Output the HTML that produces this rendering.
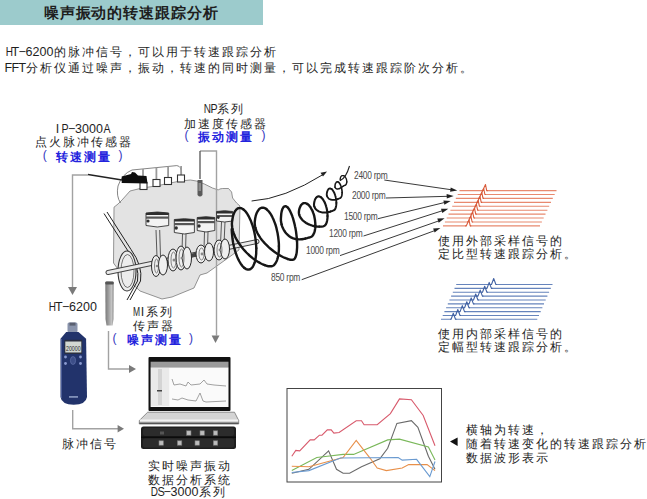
<!DOCTYPE html>
<html><head><meta charset="utf-8">
<style>
html,body{margin:0;padding:0;background:#fff;}
body{width:647px;height:499px;position:relative;overflow:hidden;font-family:"Liberation Sans",sans-serif;color:#1e1e1e;}
.t{position:absolute;white-space:nowrap;font-size:12px;line-height:14px;letter-spacing:2px;}
.mc{display:inline-block;width:7px;text-align:center;font-size:12.5px;letter-spacing:0;}
.b{color:#1c1ccc;font-weight:bold;}
.c{text-align:center;}
svg{position:absolute;left:0;top:0;}
.rpm{position:absolute;font-size:10px;line-height:10px;letter-spacing:-0.3px;color:#4a4a4a;white-space:nowrap;transform:scaleX(0.84);transform-origin:0 0;}
</style></head><body>
<div style="position:absolute;left:0;top:0;width:263px;height:24.5px;background:#9ccbcc"></div>
<div class="t" style="left:43.8px;top:4.5px;font-size:15px;line-height:15px;font-weight:bold;letter-spacing:0.9px">噪声振动的转速跟踪分析</div>
<div class="t" style="left:4.5px;top:44.5px"><span class="mc" style="transform:scaleX(0.8)">H</span><span class="mc">T</span><span class="mc">&minus;</span><span class="mc">6</span><span class="mc">2</span><span class="mc">0</span><span class="mc">0</span>的脉冲信号，可以用于转速跟踪分析</div>
<div class="t" style="left:4.5px;top:60.5px"><span class="mc">F</span><span class="mc">F</span><span class="mc">T</span>分析仪通过噪声，振动，转速的同时测量，可以完成转速跟踪阶次分析。</div>

<svg width="647" height="499" viewBox="0 0 647 499">
<!-- connector gray lines -->
<g stroke="#a2a2a2" stroke-width="1.4" fill="none">
<path d="M88,175 H72.5 V288"/>
<path d="M108.5,331 V369 H129"/>
<path d="M72.7,410 V428.7 H118"/>
</g>
<g fill="#7a7a7a">
<path d="M68,287 L77,287 L72.5,295 Z"/>
<path d="M211.6,335.5 L219.5,335.5 L215.5,343 Z"/>
<path d="M129,365 L136,369 L129,373 Z"/>
<path d="M117.6,425 L124,428.7 L117.6,432.5 Z"/>
</g>

<!-- engine body -->
<path d="M114,207.2 L118,204 L122,200 L130,191 L142,188 L156,186 L170.3,183 L180.3,181 L190.4,180 L196.4,181 L204.4,184 L212.5,188 L218.5,190 L219.5,189 L222.5,188.5 L228.5,188.5 L231.6,192 L232.6,198 L236.6,203 L240,206 L239,250 L228,258 L207,273 L200,275 L194,288 L172,297 L162,299 L140,291 L120,272 L113.5,263 Z" fill="#e3e3e3" stroke="#6a6a6a" stroke-width="0.7"/>
<path d="M200,151 H216.5 V336" stroke="#a2a2a2" stroke-width="1.4" fill="none"/>
<!-- harness -->
<path d="M132,170 Q122,174 118,186 Q116,196 120.5,203 M132,170 L176.8,165.6 Q181.5,166 181.7,173.6" fill="none" stroke="#666" stroke-width="0.8"/>
<g stroke="#9a9a9a" stroke-width="1.8"><path d="M143,169 V184 M156.4,167.5 V180 M168.1,166.5 V178 M181.1,166 V176"/></g>
<g fill="#fff" stroke="#333" stroke-width="1.1">
<rect x="140" y="182.5" width="7" height="7"/><rect x="153" y="179.5" width="7" height="7"/><rect x="164.5" y="177.5" width="7" height="7"/><rect x="177.5" y="175" width="7" height="7"/>
</g>
<!-- IP-3000A clip -->
<path d="M88,174.5 L122,180" stroke="#222" stroke-width="1.4"/>
<path d="M121.7,176.5 L131,174 L132,172 L135,172.4 L138,175.5 L146.5,176 L147.5,183.5 L121.7,183 Z" fill="#0e0e0e"/>
<!-- NP sensor -->
<path d="M200,151 V179" stroke="#555" stroke-width="1.3"/>
<path d="M197.5,180 L202.5,180 L202.5,195 Q200,198 197.5,195 Z" fill="#5a5a5a"/>
<rect x="198.5" y="183" width="2.5" height="8" fill="#8a8a8a"/>

<!-- belt and pulley -->
<path d="M104,213.5 L128,251 Q140,266 137.5,281 L127,300" fill="none" stroke="#222" stroke-width="1"/>
<path d="M107,212 L131,249.5 Q143,266 140.5,281 L130,300" fill="none" stroke="#222" stroke-width="1"/>
<ellipse cx="127" cy="271" rx="9" ry="20" fill="#ececec" stroke="#333" stroke-width="1.1"/>
<ellipse cx="127.5" cy="271" rx="6.5" ry="16.5" fill="none" stroke="#555" stroke-width="0.8"/>
<!-- shaft -->
<path d="M108,272.5 L257,241.5" stroke="#444" stroke-width="5" stroke-linecap="round"/>
<path d="M108,272.5 L257,241.5" stroke="#eaeaea" stroke-width="3" stroke-linecap="round"/>

<!-- piston rods -->
<g fill="none" stroke="#333" stroke-width="0.8">
<path d="M156,230 L157,257 M159.7,230 L160.5,257"/>
<path d="M182.5,234 L182,252 M186,234 L185.5,252"/>
<path d="M204.5,232 L204,249 M208,232 L207.5,249"/>
<path d="M221.5,222 L220.5,244 M225,222 L224,244"/>
</g>
<!-- pistons -->
<g fill="#f3f3f3" stroke="#333" stroke-width="0.9">
<path d="M146,213 Q157.3,211 168.7,213 L168.7,225.5 Q157.3,228.5 146,225.5 Z"/>
<path d="M174.3,219.5 Q184.3,218 194.4,219.5 L194.4,232.5 Q184.3,235.5 174.3,232.5 Z"/>
<path d="M197.2,217.5 Q206,216 214.8,217.5 L214.8,230.5 Q206,233.5 197.2,230.5 Z"/>
<path d="M216.5,211.5 Q224.6,210 232.7,211.5 L232.7,221 Q224.6,223 216.5,221 Z"/>
</g>
<g fill="#2e2e2e">
<path d="M146,213 Q157.3,211 168.7,213 V215 H146 Z"/><rect x="146" y="216.5" width="22.7" height="2.2" fill="#555"/><circle cx="148" cy="221" r="1.6"/>
<path d="M174.3,219.5 Q184.3,218 194.4,219.5 V221.5 H174.3 Z"/><rect x="174.3" y="223" width="20.1" height="2.2" fill="#555"/><circle cx="176.2" cy="228" r="1.7"/>
<path d="M197.2,217.5 Q206,216 214.8,217.5 V219.5 H197.2 Z"/><rect x="197.2" y="221" width="17.6" height="2.2" fill="#555"/><circle cx="199" cy="226" r="1.7"/>
<path d="M216.5,211.5 Q224.6,210 232.7,211.5 V213.5 H216.5 Z"/><rect x="216.5" y="215" width="16.2" height="2" fill="#555"/><circle cx="218.3" cy="217.5" r="1.4"/>
</g>
<!-- cranks -->
<path d="M167,262 L169,261 M190,256 L197,254 M212,250 L215,249" stroke="#444" stroke-width="3.5"/>
<g fill="#efefef" stroke="#2a2a2a" stroke-width="1">
<ellipse cx="156" cy="266" rx="4.5" ry="10.5"/><ellipse cx="163" cy="265" rx="4.5" ry="10"/>
<ellipse cx="173" cy="260" rx="5" ry="11"/><ellipse cx="181" cy="258" rx="5" ry="12"/><ellipse cx="187" cy="258" rx="4.5" ry="11"/>
<ellipse cx="201" cy="254" rx="5" ry="9"/><ellipse cx="209" cy="252" rx="4.5" ry="9"/>
<ellipse cx="219" cy="250" rx="5" ry="10"/><ellipse cx="225" cy="249" rx="4.5" ry="10"/>
</g>
<g fill="none" stroke="#555" stroke-width="0.7">
<ellipse cx="156.5" cy="266" rx="2" ry="7"/><ellipse cx="173.5" cy="260" rx="2.5" ry="8"/><ellipse cx="181.5" cy="258" rx="2.5" ry="9"/>
<ellipse cx="201.5" cy="254" rx="2.5" ry="6"/><ellipse cx="219.5" cy="250" rx="2.5" ry="7"/>
</g>
<g fill="#888"><circle cx="157" cy="266" r="1.3"/><circle cx="174" cy="260" r="1.5"/><circle cx="182" cy="258" r="1.5"/><circle cx="202" cy="254" r="1.4"/><circle cx="220" cy="250" r="1.4"/></g>

<!-- spiral -->
<path d="M231.7,229.3 L231.8,231.1 L231.9,233.0 L232.1,234.9 L232.3,236.9 L232.5,238.8 L232.8,240.7 L233.1,242.7 L233.5,244.6 L233.9,246.5 L234.4,248.3 L234.9,250.1 L235.4,251.9 L236.0,253.6 L236.6,255.3 L237.2,256.9 L237.9,258.4 L238.6,259.9 L239.3,261.3 L240.0,262.5 L240.7,263.7 L241.5,264.8 L242.2,265.8 L243.0,266.7 L243.8,267.4 L244.5,268.1" fill="none" stroke="#161616" stroke-width="2.40" stroke-linecap="round"/>
<path d="M244.5,268.1 L245.3,268.6 L246.1,269.1 L246.8,269.4 L247.6,269.5 L248.3,269.6 L249.0,269.5 L249.7,269.4 L250.4,269.1 L251.0,268.6 L251.7,268.1 L252.2,267.4 L252.8,266.7 L253.3,265.8 L253.8,264.8 L254.2,263.7 L254.7,262.5 L255.0,261.3 L255.3,259.9 L255.6,258.4 L255.8,256.9 L256.0,255.3 L256.2,253.6 L256.2,251.9 L256.3,250.1 L256.3,248.3" fill="none" stroke="#161616" stroke-width="2.40" stroke-linecap="round"/>
<path d="M256.3,248.3 L256.2,246.5 L256.1,244.6 L255.9,242.7 L255.7,240.7 L255.5,238.8 L255.2,236.9 L254.9,234.9 L254.5,233.0 L254.1,231.1 L253.6,229.3 L253.1,227.5 L252.6,225.7 L252.0,224.0 L251.4,222.3 L250.8,220.7 L250.1,219.2 L249.4,217.7 L248.7,216.3 L248.0,215.1 L247.3,213.9 L246.5,212.8 L245.8,211.8 L245.0,210.9 L244.2,210.2 L243.5,209.5" fill="none" stroke="#161616" stroke-width="2.40" stroke-linecap="round"/>
<path d="M243.5,209.5 L242.7,209.0 L241.9,208.5 L241.2,208.2 L240.4,208.1 L239.7,208.0 L239.0,208.1 L238.3,208.2 L237.6,208.5 L237.0,209.0 L236.3,209.5 L235.8,210.2 L235.2,210.9 L234.7,211.8 L234.2,212.8 L233.8,213.9 L233.3,215.1 L233.0,216.3 L232.7,217.7 L232.4,219.2 L232.2,220.7 L232.0,222.3 L231.9,224.0 L232.0,225.7 L232.2,227.4 L232.5,229.2" fill="none" stroke="#161616" stroke-width="2.40" stroke-linecap="round"/>
<path d="M232.5,229.2 L233.0,231.1 L233.6,232.9 L234.3,234.8 L235.1,236.7 L236.0,238.5 L237.1,240.4 L238.2,242.2 L239.4,244.0 L240.7,245.8 L242.0,247.6 L243.4,249.3 L244.9,250.9 L246.4,252.5 L247.9,254.0 L249.5,255.5 L251.0,256.8 L252.6,258.1 L254.2,259.3 L255.8,260.5 L257.4,261.5 L259.0,262.4 L260.5,263.3 L262.0,264.0 L263.4,264.6 L264.8,265.2" fill="none" stroke="#161616" stroke-width="2.40" stroke-linecap="round"/>
<path d="M264.8,265.2 L266.1,265.6 L267.4,266.0 L268.6,266.2 L269.6,266.3 L270.8,266.3 L271.5,266.2 L272.2,266.1 L272.9,265.8 L273.5,265.4 L274.2,264.9 L274.7,264.2 L275.3,263.5 L275.8,262.7 L276.3,261.7 L276.8,260.7 L277.2,259.6 L277.6,258.4 L277.9,257.1 L278.2,255.7 L278.4,254.2 L278.6,252.7 L278.8,251.1 L278.9,249.5 L278.9,247.8 L278.9,246.1" fill="none" stroke="#161616" stroke-width="2.40" stroke-linecap="round"/>
<path d="M278.9,246.1 L278.9,244.3 L278.8,242.5 L278.6,240.7 L278.4,238.8 L278.2,237.0 L277.9,235.2 L277.6,233.3 L277.2,231.5 L276.8,229.7 L276.4,227.9 L275.9,226.2 L275.4,224.5 L274.8,222.9 L274.2,221.3 L273.6,219.8 L272.9,218.3 L272.3,216.9 L271.6,215.6 L270.9,214.4 L270.1,213.3 L269.4,212.3 L268.6,211.3 L267.9,210.5 L267.1,209.8 L266.4,209.1" fill="none" stroke="#161616" stroke-width="2.40" stroke-linecap="round"/>
<path d="M266.4,209.1 L265.6,208.6 L264.8,208.2 L264.1,207.9 L263.3,207.8 L262.6,207.7 L261.9,207.8 L261.2,207.9 L260.5,208.2 L259.9,208.6 L259.2,209.1 L258.7,209.8 L258.1,210.5 L257.6,211.3 L257.1,212.3 L256.6,213.3 L256.2,214.4 L255.8,215.6 L255.5,216.9 L255.2,218.3 L255.0,219.8 L254.8,221.3 L254.7,222.9 L254.8,224.5 L255.0,226.2 L255.4,227.8" fill="none" stroke="#161616" stroke-width="2.40" stroke-linecap="round"/>
<path d="M255.4,227.8 L255.9,229.5 L256.6,231.2 L257.4,233.0 L258.3,234.7 L259.4,236.4 L260.5,238.1 L261.7,239.7 L263.0,241.3 L264.4,242.9 L265.9,244.5 L267.4,245.9 L268.9,247.4 L270.5,248.7 L272.1,250.0 L273.7,251.3 L275.3,252.4 L276.8,253.5 L278.4,254.5 L279.9,255.4 L281.4,256.2 L282.9,257.0 L284.3,257.7 L285.6,258.2 L286.9,258.7 L288.0,259.1" fill="none" stroke="#161616" stroke-width="2.40" stroke-linecap="round"/>
<path d="M288.0,259.1 L289.1,259.4 L290.1,259.7 L291.0,259.8 L291.9,259.9 L292.8,259.8 L293.2,259.7 L293.6,259.6 L294.0,259.3 L294.4,259.0 L294.8,258.5 L295.1,257.9 L295.5,257.2 L295.8,256.5 L296.0,255.6 L296.3,254.7 L296.5,253.6 L296.7,252.5 L296.8,251.3 L296.9,250.1 L297.0,248.8 L297.1,247.4 L297.1,245.9 L297.1,244.4 L297.1,242.9 L297.0,241.3" fill="none" stroke="#161616" stroke-width="2.40" stroke-linecap="round"/>
<path d="M297.0,241.3 L296.9,239.7 L296.8,238.0 L296.6,236.4 L296.4,234.7 L296.2,233.0 L296.0,231.3 L295.7,229.6 L295.4,228.0 L295.0,226.3 L294.7,224.7 L294.3,223.1 L293.9,221.6 L293.5,220.1 L293.1,218.6 L292.6,217.2 L292.2,215.9 L291.7,214.7 L291.2,213.5 L290.7,212.4 L290.2,211.3 L289.7,210.4 L289.2,209.5 L288.7,208.8 L288.2,208.1 L287.7,207.5" fill="none" stroke="#161616" stroke-width="2.40" stroke-linecap="round"/>
<path d="M287.7,207.5 L287.2,207.0 L286.7,206.7 L286.2,206.4 L285.7,206.3 L285.2,206.2 L284.8,206.3 L284.4,206.4 L284.0,206.7 L283.6,207.0 L283.2,207.5 L282.9,208.1 L282.5,208.8 L282.2,209.5 L282.0,210.4 L281.7,211.3 L281.5,212.4 L281.3,213.5 L281.2,214.7 L281.1,215.9 L281.0,217.2 L280.9,218.6 L280.9,220.1 L281.0,221.5 L281.3,223.0 L281.6,224.4" fill="none" stroke="#161616" stroke-width="2.40" stroke-linecap="round"/>
<path d="M281.6,224.4 L282.0,225.8 L282.5,227.2 L283.1,228.5 L283.8,229.8 L284.5,231.0 L285.3,232.2 L286.1,233.2 L287.0,234.2 L288.0,235.1 L289.0,236.0 L290.0,236.7 L291.0,237.4 L292.1,237.9 L293.2,238.4 L294.3,238.7 L295.5,239.0 L296.6,239.2 L297.7,239.3 L298.9,239.4 L300.0,239.4 L301.1,239.3 L302.1,239.2 L303.2,239.0 L304.2,238.9 L305.2,238.6" fill="none" stroke="#161616" stroke-width="2.40" stroke-linecap="round"/>
<path d="M305.2,238.6 L306.1,238.4 L307.0,238.2 L307.8,237.9 L308.6,237.7 L309.2,237.5 L309.9,237.3 L310.4,237.2 L310.9,237.0 L311.3,236.8 L311.7,236.5 L312.2,236.1 L312.6,235.7 L313.0,235.2 L313.3,234.6 L313.6,234.0 L313.9,233.4 L314.2,232.7 L314.5,231.9 L314.7,231.1 L314.9,230.3 L315.0,229.4 L315.2,228.4 L315.3,227.5 L315.3,226.5 L315.3,225.5" fill="none" stroke="#161616" stroke-width="2.40" stroke-linecap="round"/>
<path d="M315.3,225.5 L315.3,224.5 L315.3,223.4 L315.2,222.3 L315.1,221.3 L315.0,220.2 L314.8,219.1 L314.6,218.1 L314.4,217.0 L314.2,215.9 L313.9,214.9 L313.6,213.9 L313.2,212.9 L312.9,212.0 L312.5,211.0 L312.1,210.1 L311.6,209.3 L311.2,208.5 L310.7,207.7 L310.3,207.0 L309.8,206.4 L309.3,205.8 L308.8,205.2 L308.2,204.7 L307.7,204.3 L307.2,203.9" fill="none" stroke="#161616" stroke-width="2.40" stroke-linecap="round"/>
<path d="M307.2,203.9 L306.7,203.6 L306.1,203.4 L305.6,203.2 L305.1,203.1 L304.6,203.1 L304.1,203.1 L303.6,203.2 L303.1,203.4 L302.7,203.6 L302.3,203.9 L301.8,204.3 L301.4,204.7 L301.0,205.2 L300.7,205.8 L300.4,206.4 L300.1,207.0 L299.8,207.7 L299.5,208.5 L299.3,209.3 L299.1,210.1 L299.0,211.0 L298.9,211.9 L298.9,212.8 L299.0,213.7 L299.2,214.6" fill="none" stroke="#161616" stroke-width="2.38" stroke-linecap="round"/>
<path d="M299.2,214.6 L299.5,215.5 L299.8,216.4 L300.3,217.2 L300.8,218.0 L301.4,218.8 L302.0,219.6 L302.7,220.3 L303.5,221.0 L304.3,221.7 L305.2,222.3 L306.1,222.9 L307.0,223.4 L308.0,223.9 L308.9,224.4 L309.9,224.8 L310.9,225.2 L311.9,225.5 L312.9,225.8 L313.9,226.1 L314.9,226.3 L315.8,226.4 L316.7,226.6 L317.6,226.6 L318.5,226.7 L319.3,226.7" fill="none" stroke="#161616" stroke-width="2.31" stroke-linecap="round"/>
<path d="M319.3,226.7 L320.1,226.7 L320.8,226.7 L321.5,226.7 L322.1,226.6 L322.7,226.5 L323.2,226.4 L323.6,226.3 L324.0,226.1 L324.4,225.9 L324.7,225.7 L325.0,225.3 L325.4,225.0 L325.7,224.5 L326.0,224.1 L326.2,223.5 L326.5,223.0 L326.7,222.3 L326.9,221.7 L327.0,221.0 L327.2,220.2 L327.3,219.4 L327.4,218.6 L327.5,217.8 L327.5,216.9 L327.5,216.0" fill="none" stroke="#161616" stroke-width="2.24" stroke-linecap="round"/>
<path d="M327.5,216.0 L327.5,215.1 L327.5,214.2 L327.4,213.3 L327.3,212.3 L327.2,211.4 L327.1,210.5 L326.9,209.5 L326.7,208.6 L326.5,207.7 L326.2,206.8 L326.0,205.9 L325.7,205.0 L325.4,204.2 L325.1,203.4 L324.7,202.6 L324.4,201.8 L324.0,201.1 L323.6,200.5 L323.2,199.8 L322.8,199.3 L322.4,198.7 L322.0,198.3 L321.6,197.8 L321.1,197.5 L320.7,197.1" fill="none" stroke="#161616" stroke-width="2.17" stroke-linecap="round"/>
<path d="M320.7,197.1 L320.3,196.9 L319.9,196.7 L319.4,196.5 L319.0,196.4 L318.6,196.4 L318.2,196.4 L317.8,196.5 L317.4,196.7 L317.0,196.9 L316.7,197.1 L316.4,197.5 L316.0,197.8 L315.7,198.3 L315.4,198.7 L315.2,199.3 L314.9,199.8 L314.7,200.5 L314.5,201.1 L314.4,201.8 L314.2,202.6 L314.1,203.4 L314.0,204.2 L314.0,204.9 L314.1,205.7 L314.3,206.4" fill="none" stroke="#161616" stroke-width="2.10" stroke-linecap="round"/>
<path d="M314.3,206.4 L314.6,207.1 L314.9,207.8 L315.2,208.4 L315.7,209.0 L316.2,209.5 L316.7,210.0 L317.3,210.5 L318.0,210.9 L318.6,211.3 L319.3,211.6 L320.1,211.9 L320.8,212.1 L321.6,212.3 L322.4,212.4 L323.2,212.5 L324.0,212.5 L324.8,212.5 L325.5,212.5 L326.3,212.4 L327.1,212.3 L327.8,212.2 L328.5,212.0 L329.2,211.9 L329.9,211.7 L330.5,211.5" fill="none" stroke="#161616" stroke-width="2.03" stroke-linecap="round"/>
<path d="M330.5,211.5 L331.1,211.3 L331.6,211.1 L332.1,211.0 L332.5,210.8 L332.9,210.6 L333.3,210.5 L333.6,210.4 L333.9,210.3 L334.1,210.2 L334.4,210.0 L334.6,209.7 L334.9,209.5 L335.1,209.1 L335.3,208.8 L335.4,208.4 L335.6,208.0 L335.8,207.5 L335.9,207.0 L336.0,206.5 L336.1,206.0 L336.2,205.4 L336.3,204.8 L336.3,204.2 L336.3,203.5 L336.4,202.9" fill="none" stroke="#161616" stroke-width="1.96" stroke-linecap="round"/>
<path d="M336.4,202.9 L336.3,202.2 L336.3,201.6 L336.3,200.9 L336.2,200.2 L336.1,199.5 L336.0,198.8 L335.9,198.1 L335.7,197.4 L335.6,196.8 L335.4,196.1 L335.2,195.5 L335.0,194.8 L334.8,194.2 L334.6,193.6 L334.3,193.0 L334.1,192.5 L333.8,192.0 L333.5,191.5 L333.2,191.0 L333.0,190.6 L332.7,190.2 L332.4,189.9 L332.1,189.5 L331.8,189.3 L331.5,189.0" fill="none" stroke="#161616" stroke-width="1.89" stroke-linecap="round"/>
<path d="M331.5,189.0 L331.2,188.8 L330.8,188.7 L330.5,188.6 L330.3,188.5 L330.0,188.5 L329.7,188.5 L329.4,188.6 L329.1,188.7 L328.9,188.8 L328.6,189.0 L328.4,189.3 L328.1,189.5 L327.9,189.9 L327.7,190.2 L327.6,190.6 L327.4,191.0 L327.2,191.5 L327.1,192.0 L327.0,192.5 L326.9,193.0 L326.8,193.6 L326.7,194.2 L326.8,194.7 L326.8,195.3 L326.9,195.8" fill="none" stroke="#161616" stroke-width="1.82" stroke-linecap="round"/>
<path d="M326.9,195.8 L327.1,196.3 L327.3,196.8 L327.6,197.2 L327.9,197.6 L328.2,198.0 L328.5,198.4 L328.9,198.7 L329.4,199.0 L329.8,199.2 L330.3,199.4 L330.8,199.6 L331.3,199.7 L331.8,199.8 L332.3,199.9 L332.9,199.9 L333.4,199.9 L333.9,199.9 L334.5,199.9 L335.0,199.8 L335.5,199.7 L336.0,199.6 L336.5,199.4 L337.0,199.3 L337.4,199.2 L337.9,199.0" fill="none" stroke="#161616" stroke-width="1.74" stroke-linecap="round"/>
<path d="M337.9,199.0 L338.3,198.8 L338.6,198.7 L339.0,198.6 L339.3,198.4 L339.6,198.3 L339.9,198.2 L340.1,198.1 L340.3,198.1 L340.5,197.9 L340.6,197.8 L340.8,197.6 L341.0,197.4 L341.1,197.2 L341.3,196.9 L341.4,196.6 L341.6,196.3 L341.7,196.0 L341.8,195.6 L341.9,195.2 L341.9,194.8 L342.0,194.4 L342.0,194.0 L342.1,193.5 L342.1,193.0 L342.1,192.5" fill="none" stroke="#161616" stroke-width="1.67" stroke-linecap="round"/>
<path d="M342.1,192.5 L342.1,192.0 L342.1,191.5 L342.0,191.0 L342.0,190.5 L341.9,190.0 L341.8,189.5 L341.7,189.0 L341.6,188.5 L341.5,188.0 L341.4,187.5 L341.2,187.0 L341.1,186.5 L340.9,186.0 L340.8,185.6 L340.6,185.2 L340.4,184.8 L340.2,184.4 L340.0,184.0 L339.8,183.7 L339.6,183.4 L339.4,183.1 L339.1,182.8 L338.9,182.6 L338.7,182.4 L338.5,182.2" fill="none" stroke="#161616" stroke-width="1.60" stroke-linecap="round"/>
<path d="M338.5,182.2 L338.2,182.1 L338.0,181.9 L337.8,181.9 L337.6,181.8 L337.4,181.8 L337.1,181.8 L336.9,181.9 L336.7,181.9 L336.5,182.1 L336.4,182.2 L336.2,182.4 L336.0,182.6 L335.9,182.8 L335.7,183.1 L335.6,183.4 L335.4,183.7 L335.3,184.0 L335.2,184.4 L335.1,184.8 L335.1,185.2 L335.0,185.6 L335.0,186.0 L335.0,186.4 L335.0,186.8 L335.1,187.2" fill="none" stroke="#161616" stroke-width="1.53" stroke-linecap="round"/>
<path d="M335.1,187.2 L335.2,187.5 L335.3,187.8 L335.5,188.1 L335.7,188.3 L335.9,188.5 L336.2,188.7 L336.4,188.8 L336.7,188.9 L337.0,189.0 L337.3,189.0 L337.7,189.0 L338.0,189.0 L338.3,188.9 L338.7,188.8 L339.1,188.7 L339.5,188.5 L339.8,188.3 L340.2,188.1 L340.6,187.9 L341.0,187.7 L341.3,187.4 L341.7,187.2 L342.0,187.0 L342.4,186.7 L342.7,186.5" fill="none" stroke="#161616" stroke-width="1.46" stroke-linecap="round"/>
<path d="M342.7,186.5 L343.0,186.3 L343.3,186.1 L343.6,185.9 L343.9,185.7 L344.2,185.6 L344.4,185.5 L344.6,185.5 L344.8,185.4 L345.0,185.3 L345.2,185.3 L345.3,185.1 L345.5,185.0 L345.7,184.9 L345.8,184.7 L345.9,184.5 L346.1,184.4 L346.2,184.1 L346.3,183.9 L346.4,183.7 L346.5,183.4 L346.6,183.2 L346.6,182.9 L346.7,182.6 L346.7,182.3 L346.8,182.0" fill="none" stroke="#161616" stroke-width="1.39" stroke-linecap="round"/>
<path d="M346.8,182.0 L346.8,181.7 L346.8,181.4 L346.8,181.1 L346.7,180.8 L346.7,180.5 L346.6,180.2 L346.6,179.9 L346.5,179.6 L346.4,179.3 L346.3,179.0 L346.2,178.7 L346.1,178.4 L346.0,178.1 L345.8,177.8 L345.7,177.6 L345.5,177.3 L345.4,177.1 L345.2,176.9 L345.0,176.6 L344.8,176.5 L344.6,176.3 L344.4,176.1 L344.2,176.0 L344.0,175.9 L343.8,175.7" fill="none" stroke="#161616" stroke-width="1.32" stroke-linecap="round"/>
<path d="M343.8,175.7 L343.6,175.7 L343.4,175.6 L343.2,175.5 L343.0,175.5 L342.8,175.5 L342.6,175.5 L342.4,175.5 L342.2,175.6 L342.0,175.7 L341.8,175.7 L341.7,175.9 L341.5,176.0 L341.3,176.1 L341.2,176.3 L341.1,176.5 L340.9,176.6 L340.8,176.9 L340.7,177.1 L340.6,177.3 L340.5,177.6 L340.4,177.8 L340.4,178.1 L340.3,178.4 L340.3,178.7 L340.2,179.0" fill="none" stroke="#161616" stroke-width="1.25" stroke-linecap="round"/>
<path d="M340.2,179.0 L340.2,179.3 L340.2,179.6 L340.2,179.9 L340.3,180.2 L340.3,180.5" fill="none" stroke="#161616" stroke-width="1.20" stroke-linecap="round"/>
<path d="M340.3,180.5 Q346,178 349.5,166" fill="none" stroke="#222" stroke-width="1.1"/>
<!-- rotation arrow -->
<path d="M251.6,201 Q284,199 324,174" fill="none" stroke="#222" stroke-width="1"/>
<path d="M327,171.5 L320.5,172.8 L323,176.6 Z" fill="#222"/>

<!-- rpm arrows -->
<g stroke="#222" stroke-width="0.9" fill="none">
<path d="M384.3,180 L451,189.7"/>
<path d="M386,198 L448,196.3"/>
<path d="M378,218.7 L445,202.4"/>
<path d="M363.5,236 L442.5,210.7"/>
<path d="M340,255.6 L439,220.8"/>
<path d="M301.7,279.7 L435,230.5"/>
</g>
<g fill="#222">
<path d="M457.3,190.6 L450.1,191.8 L450.7,187.4 Z"/>
<path d="M453.7,196.0 L446.8,198.4 L446.6,194.0 Z"/>
<path d="M450.7,200.9 L444.4,204.7 L443.4,200.4 Z"/>
<path d="M448.3,208.7 L442.3,212.9 L441.0,208.8 Z"/>
<path d="M444.6,218.3 L438.7,222.7 L437.3,218.6 Z"/>
<path d="M440.4,228.0 L434.6,232.5 L433.1,228.4 Z"/>
</g>

<path d="M459.5,190.6 H482.7 M486.7,190.6 H556.5" fill="none" stroke="#e8896f" stroke-width="1.1"/>
<path d="M481.7,190.6 L482.7,190.6 L485.5,184.6 L486.7,190.6 L487.7,190.6" fill="none" stroke="#d95c3c" stroke-width="1.1" stroke-linejoin="round"/>
<path d="M457.7,194.5 H480.9 M484.9,194.5 H554.7" fill="none" stroke="#e8896f" stroke-width="1.1"/>
<path d="M479.9,194.5 L480.9,194.5 L483.7,188.5 L484.9,194.5 L485.9,194.5" fill="none" stroke="#d95c3c" stroke-width="1.1" stroke-linejoin="round"/>
<path d="M455.8,198.4 H479.0 M483.0,198.4 H552.8" fill="none" stroke="#e8896f" stroke-width="1.1"/>
<path d="M478.0,198.4 L479.0,198.4 L481.8,192.4 L483.0,198.4 L484.0,198.4" fill="none" stroke="#d95c3c" stroke-width="1.1" stroke-linejoin="round"/>
<path d="M454.0,202.4 H477.2 M481.2,202.4 H551.0" fill="none" stroke="#e8896f" stroke-width="1.1"/>
<path d="M476.2,202.4 L477.2,202.4 L480.0,196.4 L481.2,202.4 L482.2,202.4" fill="none" stroke="#d95c3c" stroke-width="1.1" stroke-linejoin="round"/>
<path d="M452.2,206.3 H475.4 M479.4,206.3 H549.2" fill="none" stroke="#e8896f" stroke-width="1.1"/>
<path d="M474.4,206.3 L475.4,206.3 L478.2,200.3 L479.4,206.3 L480.4,206.3" fill="none" stroke="#d95c3c" stroke-width="1.1" stroke-linejoin="round"/>
<path d="M450.4,210.2 H473.6 M477.6,210.2 H547.4" fill="none" stroke="#e8896f" stroke-width="1.1"/>
<path d="M472.6,210.2 L473.6,210.2 L476.4,204.2 L477.6,210.2 L478.6,210.2" fill="none" stroke="#d95c3c" stroke-width="1.1" stroke-linejoin="round"/>
<path d="M448.5,214.1 H471.7 M475.7,214.1 H545.5" fill="none" stroke="#e8896f" stroke-width="1.1"/>
<path d="M470.7,214.1 L471.7,214.1 L474.5,208.1 L475.7,214.1 L476.7,214.1" fill="none" stroke="#d95c3c" stroke-width="1.1" stroke-linejoin="round"/>
<path d="M446.7,218.0 H469.9 M473.9,218.0 H543.7" fill="none" stroke="#e8896f" stroke-width="1.1"/>
<path d="M468.9,218.0 L469.9,218.0 L472.7,212.0 L473.9,218.0 L474.9,218.0" fill="none" stroke="#d95c3c" stroke-width="1.1" stroke-linejoin="round"/>
<path d="M444.9,222.0 H468.1 M472.1,222.0 H541.9" fill="none" stroke="#e8896f" stroke-width="1.1"/>
<path d="M467.1,222.0 L468.1,222.0 L470.9,216.0 L472.1,222.0 L473.1,222.0" fill="none" stroke="#d95c3c" stroke-width="1.1" stroke-linejoin="round"/>
<path d="M443.0,225.9 H466.2 M470.2,225.9 H540.0" fill="none" stroke="#e8896f" stroke-width="1.1"/>
<path d="M465.2,225.9 L466.2,225.9 L469.0,219.9 L470.2,225.9 L471.2,225.9" fill="none" stroke="#d95c3c" stroke-width="1.1" stroke-linejoin="round"/>
<path d="M456.2,284.5 H491.5 M495.9,284.5 H552.5" fill="none" stroke="#6684bc" stroke-width="1.1"/>
<path d="M490.5,284.5 L491.5,284.5 L493.7,278.5 L495.9,284.5 L496.9,284.5" fill="none" stroke="#4262a3" stroke-width="1.1" stroke-linejoin="round"/>
<path d="M454.5,288.4 H487.0 M491.4,288.4 H550.8" fill="none" stroke="#6684bc" stroke-width="1.1"/>
<path d="M486.0,288.4 L487.0,288.4 L489.2,282.4 L491.4,288.4 L492.4,288.4" fill="none" stroke="#4262a3" stroke-width="1.1" stroke-linejoin="round"/>
<path d="M452.8,292.2 H482.5 M486.9,292.2 H549.1" fill="none" stroke="#6684bc" stroke-width="1.1"/>
<path d="M481.5,292.2 L482.5,292.2 L484.7,286.2 L486.9,292.2 L487.9,292.2" fill="none" stroke="#4262a3" stroke-width="1.1" stroke-linejoin="round"/>
<path d="M451.1,296.1 H478.0 M482.4,296.1 H547.4" fill="none" stroke="#6684bc" stroke-width="1.1"/>
<path d="M477.0,296.1 L478.0,296.1 L480.2,290.1 L482.4,296.1 L483.4,296.1" fill="none" stroke="#4262a3" stroke-width="1.1" stroke-linejoin="round"/>
<path d="M449.4,300.0 H473.5 M477.9,300.0 H545.7" fill="none" stroke="#6684bc" stroke-width="1.1"/>
<path d="M472.5,300.0 L473.5,300.0 L475.7,294.0 L477.9,300.0 L478.9,300.0" fill="none" stroke="#4262a3" stroke-width="1.1" stroke-linejoin="round"/>
<path d="M447.8,303.9 H469.1 M473.4,303.9 H544.0" fill="none" stroke="#6684bc" stroke-width="1.1"/>
<path d="M468.1,303.9 L469.1,303.9 L471.2,297.9 L473.4,303.9 L474.4,303.9" fill="none" stroke="#4262a3" stroke-width="1.1" stroke-linejoin="round"/>
<path d="M446.1,307.7 H464.6 M469.0,307.7 H542.4" fill="none" stroke="#6684bc" stroke-width="1.1"/>
<path d="M463.6,307.7 L464.6,307.7 L466.8,301.7 L469.0,307.7 L470.0,307.7" fill="none" stroke="#4262a3" stroke-width="1.1" stroke-linejoin="round"/>
<path d="M444.4,311.6 H460.1 M464.5,311.6 H540.7" fill="none" stroke="#6684bc" stroke-width="1.1"/>
<path d="M459.1,311.6 L460.1,311.6 L462.3,305.6 L464.5,311.6 L465.5,311.6" fill="none" stroke="#4262a3" stroke-width="1.1" stroke-linejoin="round"/>
<path d="M442.7,315.5 H455.6 M460.0,315.5 H539.0" fill="none" stroke="#6684bc" stroke-width="1.1"/>
<path d="M454.6,315.5 L455.6,315.5 L457.8,309.5 L460.0,315.5 L461.0,315.5" fill="none" stroke="#4262a3" stroke-width="1.1" stroke-linejoin="round"/>
<path d="M441.0,319.3 H451.1 M455.5,319.3 H537.3" fill="none" stroke="#6684bc" stroke-width="1.1"/>
<path d="M450.1,319.3 L451.1,319.3 L453.3,313.3 L455.5,319.3 L456.5,319.3" fill="none" stroke="#4262a3" stroke-width="1.1" stroke-linejoin="round"/>

<!-- mic -->
<defs><linearGradient id="micg" x1="0" x2="1" y1="0" y2="0"><stop offset="0" stop-color="#7a7a7a"/><stop offset="0.35" stop-color="#9a9a9a"/><stop offset="0.75" stop-color="#c4c4c4"/><stop offset="1" stop-color="#8a8a8a"/></linearGradient></defs>
<path d="M105.3,283 Q105.3,281.5 107,281.5 L112,281.5 Q113.7,281.5 113.7,283 L113.5,319 L112.5,325.5 L106.5,325.5 L105.5,319 Z" fill="url(#micg)"/>
<rect x="105.3" y="281.5" width="8.4" height="3" rx="1" fill="#555"/>

<!-- tachometer -->
<rect x="67.5" y="322.6" width="10" height="10" rx="1.5" fill="#8a94ac"/>
<rect x="69.5" y="322.6" width="6" height="3" fill="#5a6070"/>
<path d="M66.2,332 L78.5,332 L86.1,338.8 L87,397 Q86,404.5 73.7,404.8 Q61.5,404.5 60.5,397 L60.5,338.8 Z" fill="#22336b"/>
<path d="M61.5,339 L61.5,398" stroke="#4a5c96" stroke-width="1"/>
<rect x="64.3" y="339.7" width="18" height="14.3" rx="1" fill="#2a2f40"/>
<rect x="65.3" y="341.5" width="16" height="11" fill="#d2d8d2"/>
<text x="66" y="351" font-size="8" font-family="Liberation Sans" textLength="14.6" lengthAdjust="spacingAndGlyphs" fill="#2a2a2a">20000</text>
<g fill="#8a9ad0"><circle cx="65.5" cy="357" r="1.4"/><circle cx="80.5" cy="357" r="1.4"/><circle cx="65.5" cy="363.5" r="1.4"/><circle cx="80.5" cy="363.5" r="1.4"/></g>
<ellipse cx="73" cy="360.5" rx="2.6" ry="4" fill="#3d4e88" stroke="#6878b0" stroke-width="0.6"/>
<rect x="69" y="396" width="9" height="1.8" fill="#8090b8"/>

<!-- laptop -->
<rect x="148.5" y="357" width="82" height="54" rx="1" fill="#121212"/>
<rect x="150.6" y="361.7" width="77.9" height="5.6" fill="#9a9a9a"/>
<rect x="150.6" y="367.3" width="77.9" height="39.7" fill="#fafafa"/>
<rect x="151.2" y="368" width="18" height="38" fill="#eaeaea"/>
<rect x="158" y="369" width="4" height="36" fill="#d4d4d4"/>
<rect x="157" y="390" width="5" height="1.5" fill="#444"/>
<path d="M172,379 L174,385 L180,384 L186,386 L188,382 L191,385 L200,384 L204,380 L207,384 L214,385 L226,386" fill="none" stroke="#8a8a8a" stroke-width="0.8"/>
<path d="M172,399 L178,400 L182,398 L188,400 L196,401 L200,393 L203,401 L206,402 L226,401" fill="none" stroke="#8a8a8a" stroke-width="0.8"/>
<path d="M147.7,412.2 L234.5,412.2 L238.7,420.5 L238.7,424 L139.3,424 L139.3,420.5 Z" fill="#d4d4d4" stroke="#666" stroke-width="0.7"/>
<rect x="140" y="419.5" width="98" height="1.6" fill="#f2f2f2"/>
<rect x="139.5" y="422.5" width="99" height="1.5" fill="#555"/>
<!-- DS-3000 unit -->
<rect x="141" y="426.4" width="95" height="22.6" rx="2.5" fill="#1e1e1e"/>
<rect x="143" y="428" width="91" height="8" rx="2" fill="#2c2c2c"/>
<rect x="143" y="438.5" width="91" height="9" rx="2" fill="#2c2c2c"/>
<rect x="141" y="436.5" width="95" height="1.4" fill="#0a0a0a"/>
<g fill="#bdbdbd" stroke="#777" stroke-width="0.6">
<rect x="186.6" y="430.8" width="4.4" height="4.4"/><rect x="200" y="430.8" width="4.4" height="4.4"/><rect x="213.3" y="430.8" width="4.4" height="4.4"/>
<rect x="159" y="440.8" width="4.4" height="4.4"/><rect x="177.4" y="440.8" width="4.4" height="4.4"/><rect x="195" y="440.8" width="4.4" height="4.4"/><rect x="213.3" y="440.8" width="4.4" height="4.4"/>
</g>
<rect x="160" y="431.5" width="4" height="3" fill="#555"/>

<!-- chart -->
<rect x="287" y="388.5" width="154.5" height="93.5" fill="#fff" stroke="#444" stroke-width="1"/>
<g fill="none" stroke-width="1.1">
<polyline points="291.8,456.2 295.8,450.4 299.7,450.9 310.2,439.9 314.2,439.9 319.4,435.2 322.0,435.2 327.3,429.9 331.2,429.9 333.9,433.1 339.1,432.5 356.2,420.7 361.5,420.7 364.1,424.7 377.2,424.7 390.4,413.6 399.5,398.9 411.4,399.7 423.2,415.5 435.0,445.7" stroke="#d85a6c"/>
<polyline points="291.8,473.3 308.9,469.3 328.6,450.9 336.5,469.3 343.1,473.3 349.6,473.3 361.5,466.7 379.8,458.8 387.7,448.3 396.9,423.4 411.4,420.7 417.9,427.3 428.4,456.2 435.0,469.3" stroke="#6a6a6a"/>
<polyline points="291.8,470.6 316.8,457.5 327.3,456.2 343.1,454.4 353.6,454.4 387.7,439.9 399.5,439.1 428.4,447.0 435.0,460.1" stroke="#7ab85a"/>
<polyline points="291.8,466.2 308.9,466.7 343.1,457.5 356.2,440.4 370.6,458.8 377.2,468.0 386.4,470.6 402.2,468.0 408.7,464.6 427.1,464.6 435.0,470.6" stroke="#e8904a"/>
<polyline points="291.8,472.5 308.9,470.6 340.4,458.0 398.2,457.5 402.2,460.1 416.6,459.3 429.8,476.7 435.0,461.5" stroke="#6a9ad0"/>
</g>
<path d="M450,441.5 L457.6,437.4 L457.6,446 Z" fill="#111"/>
</svg>

<!-- labels -->
<div class="t" style="left:54px;top:122px;"><span class="mc">I</span><span class="mc" style="transform:scaleX(0.85)">P</span><span class="mc">&minus;</span><span class="mc">3</span><span class="mc">0</span><span class="mc">0</span><span class="mc">0</span><span class="mc" style="transform:scaleX(0.85)">A</span></div>
<div class="t" style="left:35px;top:135.2px;">点火脉冲传感器</div>
<div class="t" style="left:55.5px;top:149.5px;color:#2222dd;font-weight:bold">转速测量</div>
<div class="t" style="left:42.8px;top:148px;color:#3535c0">(</div>
<div class="t" style="left:118.5px;top:148px;color:#3535c0">)</div>
<div class="t" style="left:203px;top:102.3px;"><span class="mc" style="transform:scaleX(0.8)">N</span><span class="mc" style="transform:scaleX(0.85)">P</span>系列</div>
<div class="t" style="left:183.5px;top:117px;">加速度传感器</div>
<div class="t" style="left:198.3px;top:129.5px;color:#2222dd;font-weight:bold">振动测量</div>
<div class="t" style="left:184.5px;top:128px;color:#3535c0">(</div>
<div class="t" style="left:261.5px;top:128px;color:#3535c0">)</div>
<div class="t" style="left:48px;top:299.7px;"><span class="mc" style="transform:scaleX(0.8)">H</span><span class="mc">T</span><span class="mc">&minus;</span><span class="mc">6</span><span class="mc">2</span><span class="mc">0</span><span class="mc">0</span></div>
<div class="t" style="left:132px;top:305px;"><span class="mc" style="transform:scaleX(0.68)">M</span><span class="mc">I</span>系列</div>
<div class="t" style="left:132.5px;top:319px;">传声器</div>
<div class="t" style="left:126.5px;top:332.5px;color:#2222dd;font-weight:bold">噪声测量</div>
<div class="t" style="left:112.5px;top:331px;color:#3535c0">(</div>
<div class="t" style="left:189px;top:331px;color:#3535c0">)</div>
<div class="t" style="left:62px;top:437px;">脉冲信号</div>
<div class="t" style="left:147.5px;top:458.5px;">实时噪声振动</div>
<div class="t" style="left:147.5px;top:473px;">数据分析系统</div>
<div class="t" style="left:149.5px;top:484.5px;"><span class="mc" style="transform:scaleX(0.8)">D</span><span class="mc" style="transform:scaleX(0.88)">S</span><span class="mc">&minus;</span><span class="mc">3</span><span class="mc">0</span><span class="mc">0</span><span class="mc">0</span>系列</div>
<div class="t" style="left:438px;top:233.5px;">使用外部采样信号的</div>
<div class="t" style="left:438px;top:246.7px;">定比型转速跟踪分析。</div>
<div class="t" style="left:438px;top:326.5px;">使用内部采样信号的</div>
<div class="t" style="left:438px;top:340px;">定幅型转速跟踪分析。</div>
<div class="t" style="left:466px;top:422.6px;">横轴为转速，</div>
<div class="t" style="left:466px;top:437px;">随着转速变化的转速跟踪分析</div>
<div class="t" style="left:466px;top:451px;">数据波形表示</div>
<div class="rpm" style="left:353.5px;top:170.5px">2400 rpm</div>
<div class="rpm" style="left:351.5px;top:190.5px">2000 rpm</div>
<div class="rpm" style="left:344px;top:211.5px">1500 rpm</div>
<div class="rpm" style="left:329px;top:229px">1200 rpm</div>
<div class="rpm" style="left:305.5px;top:245.5px">1000 rpm</div>
<div class="rpm" style="left:270.5px;top:273px">850 rpm</div>
</body></html>
